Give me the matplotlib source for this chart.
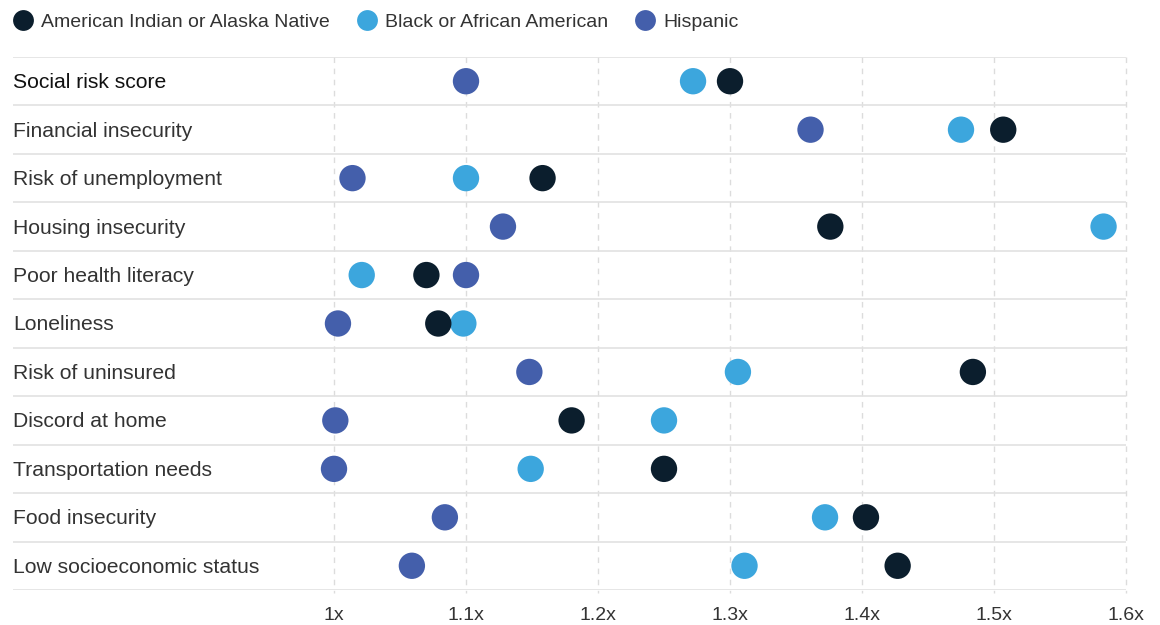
import matplotlib
matplotlib.use("Agg")
import matplotlib.pyplot as plt
import matplotlib.transforms as mtransforms
from matplotlib.lines import Line2D

plt.rcParams['font.family'] = ['Liberation Sans', 'DejaVu Sans']

categories = [
    "Social risk score",
    "Financial insecurity",
    "Risk of unemployment",
    "Housing insecurity",
    "Poor health literacy",
    "Loneliness",
    "Risk of uninsured",
    "Discord at home",
    "Transportation needs",
    "Food insecurity",
    "Low socioeconomic status",
]

series_names = ["American Indian or Alaska Native", "Black or African American", "Hispanic"]
aian = [1.300, 1.507, 1.158, 1.376, 1.070, 1.079, 1.484, 1.180, 1.250, 1.403, 1.427]
black = [1.272, 1.475, 1.100, 1.583, 1.021, 1.098, 1.306, 1.250, 1.149, 1.372, 1.311]
hispanic = [1.100, 1.361, 1.014, 1.128, 1.100, 1.003, 1.148, 1.001, 1.000, 1.084, 1.059]

tick_values = [1.0, 1.1, 1.2, 1.3, 1.4, 1.5, 1.6]
tick_labels = ["1x", "1.1x", "1.2x", "1.3x", "1.4x", "1.5x", "1.6x"]

colors = ["#0b1e2d", "#3ca6dd", "#445fab"]

fig = plt.figure(figsize=(11.6, 6.25), dpi=100)
ax = fig.add_axes([13 / 1160, 1 - 590 / 625, (1126 - 13) / 1160, (590 - 57) / 625])

x_left = 1.0 - 321 / 1320
ax.set_xlim(x_left, 1.6)
ax.set_ylim(len(categories) - 0.5, -0.5)

# dashed vertical gridlines at each tick
for t in tick_values:
    ax.plot([t, t], [-0.5, len(categories) - 0.5 + 0.06], color="#dcdcdc",
            lw=1, ls=(0, (4, 4)), zorder=1, clip_on=False)

# horizontal separators between rows
for b in range(len(categories) + 1):
    ax.axhline(b - 0.5, color="#e2e2e2", lw=1.2, zorder=1)

ys = list(range(len(categories)))
for vals, c in zip([hispanic, black, aian], [colors[2], colors[1], colors[0]]):
    ax.scatter(vals, ys, s=360, color=c, edgecolors="none", zorder=3)

shift_down = mtransforms.ScaledTranslation(0, -1.5 / 100, fig.dpi_scale_trans)
for i, cat in enumerate(categories):
    ax.text(0.0, i, cat, transform=ax.get_yaxis_transform() + shift_down,
            va="center", ha="left", fontsize=15.2,
            color="#111111" if i == 0 else "#333333")

for t, lab in zip(tick_values, tick_labels):
    ax.text(t, len(categories) - 0.5 + 0.35, lab, ha="center", va="top",
            fontsize=14, color="#333333")

for s in ax.spines.values():
    s.set_visible(False)
ax.set_xticks([])
ax.set_yticks([])

handles = [Line2D([0], [0], marker="o", ls="none", markersize=15,
                  markerfacecolor=c, markeredgecolor="none") for c in colors]
fig.legend(handles, series_names, loc="upper left", bbox_to_anchor=(-0.004, 1.0035),
           ncol=3, frameon=False, fontsize=14, handletextpad=0.35,
           columnspacing=1.3, handlelength=1.2, borderaxespad=0.4,
           labelcolor="#333333")

fig.savefig("out.png", dpi=100, facecolor="white")
